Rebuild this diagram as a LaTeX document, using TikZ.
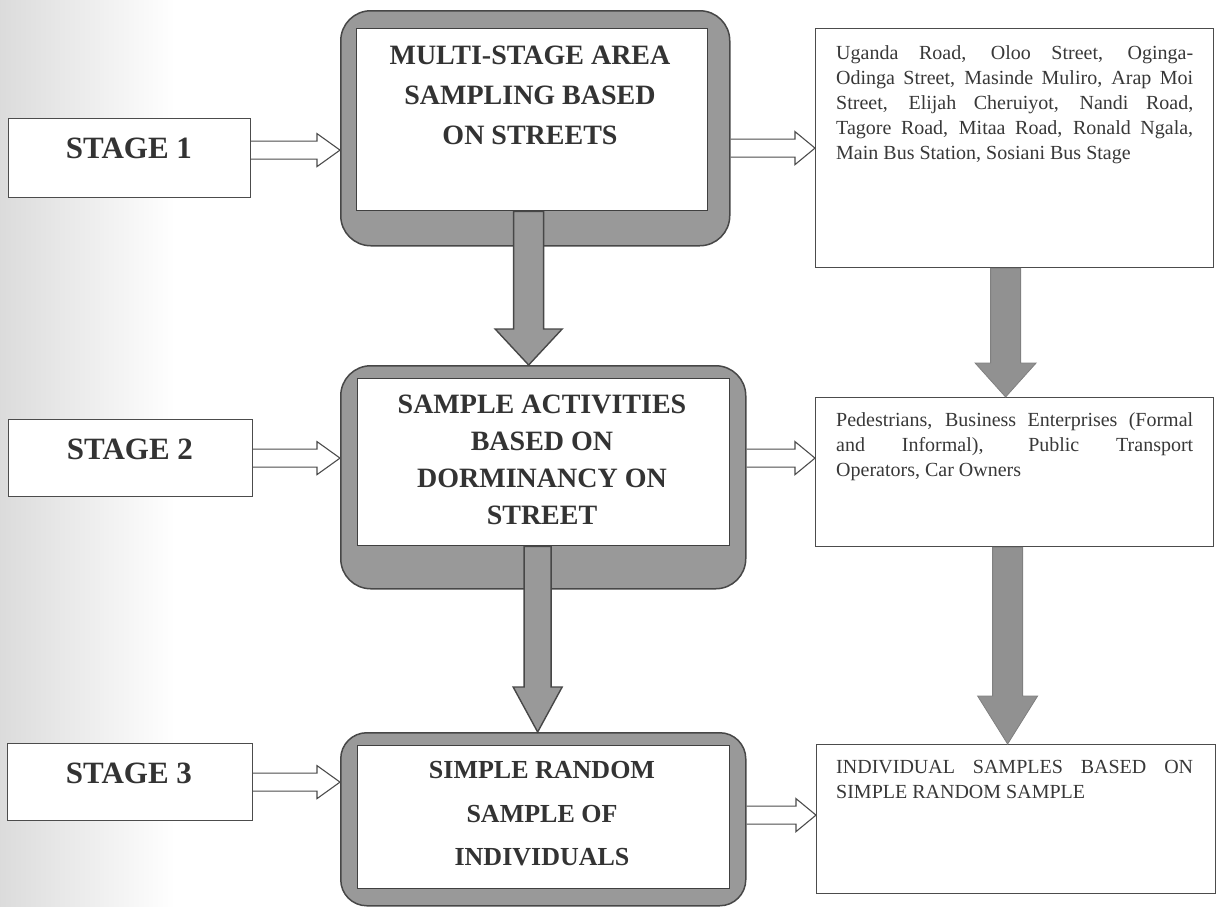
\documentclass[tikz,border=0pt]{standalone}
\usepackage{fontspec}
\setmainfont{Liberation Serif}
\usetikzlibrary{calc}

\tikzset{
  stagebox/.style={draw=black!70, line width=1.2pt, fill=white, inner sep=0pt, anchor=north west},
  stagetext/.style={font=\fontsize{31}{36}\selectfont\bfseries, text=black!80, inner sep=0pt},
  frame/.style={draw=black!72, line width=1.5pt, fill=black!40, rounded corners=30pt, inner sep=0pt, anchor=north west},
  panel/.style={draw=black!75, line width=1.3pt, fill=white, inner sep=0pt, anchor=north west},
  paneltext/.style={font=\fontsize{28}{40}\selectfont\bfseries, text=black!80, align=center, inner sep=0pt},
  listbox/.style={draw=black!70, line width=1.2pt, fill=white, inner sep=0pt, anchor=north west},
  listtext/.style={font=\fontsize{20}{25}\selectfont, text=black!78, text width=357pt, align=justify, inner sep=0pt, anchor=north west},
  arrowline/.style={draw=black!70, line width=1.1pt},
  % open double-line arrow: tail at the start point, tip at the target's x
  hollow/.style={to path={let \p1=(\tikztostart), \p2=(\tikztotarget) in
     (\x1,\y1+9pt) -- (\x2-#1pt,\y1+9pt) -- (\x2-#1pt,\y1+16.5pt) -- (\x2,\y1)
     -- (\x2-#1pt,\y1-16.5pt) -- (\x2-#1pt,\y1-9pt) -- (\x1,\y1-9pt)}},
  hollow/.default=23,
  % thick block arrow pointing down: shaft half width, head half width, head length
  fatpath/.style n args={3}{to path={let \p1=(\tikztostart), \p2=(\tikztotarget) in
     (\x1-#1pt,\y1) -- (\x1-#1pt,\y2+#3pt) -- (\x1-#2pt,\y2+#3pt) -- (\x1,\y2)
     -- (\x1+#2pt,\y2+#3pt) -- (\x1+#1pt,\y2+#3pt) -- (\x1+#1pt,\y1) -- cycle}},
  darkfat/.style={draw=black!72, line width=1.4pt, fill=black!40},
  lightfat/.style={draw=black!50, line width=0.8pt, fill=black!43},
}

\begin{document}
\begin{tikzpicture}[x=1pt, y=-1pt]
\useasboundingbox (0,0) rectangle (1231,906);
\shade[left color=black!14, right color=white] (0,0) rectangle (175,906);

% stage labels
\node[stagebox, minimum width=242pt, minimum height=79pt] (s1) at (8,118) {};
\node[stagetext] (s1t) at (129,148) {STAGE 1};
\node[stagebox, minimum width=244pt, minimum height=77pt] (s2) at (8,419) {};
\node[stagetext] (s2t) at (130,449) {STAGE 2};
\node[stagebox, minimum width=245pt, minimum height=77pt] (s3) at (7,743) {};
\node[stagetext] (s3t) at (129,773) {STAGE 3};

% framed process boxes
\node[frame, minimum width=389pt, minimum height=235pt] (b1o) at (340,10) {};
\node[panel, minimum width=351pt, minimum height=182pt] (b1) at (356,28) {};
\node[frame, minimum width=405pt, minimum height=223pt] (b2o) at (340,365) {};
\node[panel, minimum width=372pt, minimum height=167pt] (b2) at (357,378) {};
\node[frame, rounded corners=26pt, minimum width=405pt, minimum height=173pt] (b3o) at (340,732) {};
\node[panel, minimum width=372pt, minimum height=143pt] (b3) at (357,745) {};

% detail boxes
\node[listbox, minimum width=398pt, minimum height=239pt] (r1) at (815,28) {};
\node[listbox, minimum width=398pt, minimum height=149pt] (r2) at (815,397) {};
\node[listbox, minimum width=399pt, minimum height=149pt] (r3) at (816,744) {};

% flow between process boxes
\draw[darkfat, fatpath={15}{33.5}{36}] ($(b1.south)+(-3.5,0)$) to (b2o.north);
\draw[darkfat, fatpath={13.5}{24.5}{45}] ($(b2.south)+(-6,0)$) to (b3o.north);
\draw[lightfat, fatpath={15}{30.5}{34}] ($(r1.south)+(-9,0)$) to (r2.north);
\draw[lightfat, fatpath={15}{30}{48}] ($(r2.south)+(-7,0)$) to (r3.north);

% open arrows
\draw[arrowline, hollow] ($(s1.east)+(0,-8)$) to (b1o.west);
\draw[arrowline, hollow] (s2.east) to (b2o.west);
\draw[arrowline, hollow] (s3.east) to (b3o.west);
\draw[arrowline, hollow=20] (b1o.east |- r1.west) to (r1.west);
\draw[arrowline, hollow=20] (b2o.east |- s2.east) to (r2.west);
\draw[arrowline, hollow=20] ($(b3o.east |- r3.west)+(0,-4)$) to (r3.west);

% texts
\node[paneltext] (b1t) at (530,95) {MULTI-STAGE AREA\\SAMPLING BASED\\ON STREETS};
\node[paneltext, font=\fontsize{28}{37}\selectfont\bfseries] (b2t) at (542,460)
  {SAMPLE ACTIVITIES\\BASED ON\\DORMINANCY ON\\STREET};
\node[paneltext, font=\fontsize{26}{43.5}\selectfont\bfseries] (b3t) at (542,814)
  {SIMPLE RANDOM\\SAMPLE OF\\INDIVIDUALS};

\node[listtext] (r1t) at (836,45) {Uganda Road, Oloo Street, Oginga-\linebreak
  Odinga Street, Masinde Muliro, Arap Moi\linebreak
  Street, Elijah Cheruiyot, Nandi Road,\linebreak
  Tagore Road, Mitaa Road, Ronald Ngala,\linebreak
  Main Bus Station, Sosiani Bus Stage};
\node[listtext] (r2t) at (836,412) {Pedestrians, Business Enterprises (Formal\linebreak
  and Informal), Public Transport\linebreak
  Operators, Car Owners};
\node[listtext] (r3t) at (836,760) {INDIVIDUAL SAMPLES BASED ON\linebreak
  SIMPLE RANDOM SAMPLE};
\end{tikzpicture}
\end{document}
